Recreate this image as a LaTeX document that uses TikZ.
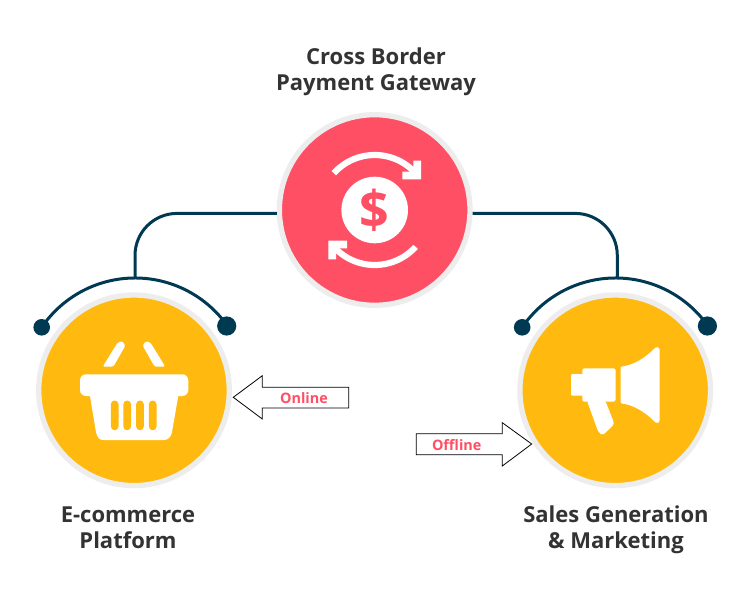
\documentclass[tikz,border=0pt]{standalone}
\usepackage{fontspec}
\setmainfont{Open Sans}
\definecolor{redc}{HTML}{FF4F64}
\definecolor{yelc}{HTML}{FFB90F}
\definecolor{navyc}{HTML}{003A52}
\definecolor{ringc}{HTML}{EDEDED}
\definecolor{txtc}{HTML}{333333}
\tikzset{
  x=1pt,y=-1pt,
  disc/.style={circle,draw=ringc,line width=5.3pt,minimum size=190.6pt,inner sep=0pt},
  conn/.style={draw=navyc,line width=3pt},
  dotsmall/.style={circle,fill=navyc,minimum size=16.6pt,inner sep=0pt},
  dotbig/.style={circle,fill=navyc,minimum size=19.2pt,inner sep=0pt},
  title/.style={font=\fontsize{22}{26}\selectfont\bfseries,text=txtc,align=center,inner sep=0pt},
  tag/.style={font=\fontsize{14.4}{16}\selectfont\bfseries,text=redc,inner sep=0pt},
  blockarrow/.style={draw=black,fill=white,line width=0.8pt,line join=miter},
  icon/.style={fill=white,draw=none},
}
\begin{document}
\begin{tikzpicture}
\path[use as bounding box,fill=white] (0,0) rectangle (750,600);

% discs
\node[disc,fill=redc] (pay) at (374.7,210) {};
\node[disc,fill=yelc] (shop) at (134,390.3) {};
\node[disc,fill=yelc] (sales) at (615.2,390.3) {};

% joints and dots
\node[dotsmall] (la) at (41.7,327.3) {};
\node[dotbig]   (lb) at (226.7,326) {};
\node[dotsmall] (ra) at (522.2,327.3) {};
\node[dotbig]   (rb) at (707.4,326) {};
\coordinate (lt) at (135,277.5);
\coordinate (rt) at (617.3,277.5);

% connectors
\draw[conn] (la.center) arc[start angle=214.3,end angle=325.4,radius=113];
\draw[conn] (ra.center) arc[start angle=214.3,end angle=325.4,radius=113];
\draw[conn,rounded corners=42pt] (pay.182.3) -| (lt);
\draw[conn,rounded corners=42pt] (pay.-2.3) -| (rt);

% payment icon
\fill[white] (pay.center) circle[radius=33.3];
\node[font=\fontsize{52}{52}\selectfont\bfseries,text=redc,inner sep=0pt] (dollar) at (374.7,210) {\$};
\foreach \r in {0,180}{
\begin{scope}[shift={(374.7,210)},rotate=\r]
  \draw[white,line width=6.2pt] (222:55) arc[start angle=222,end angle=316,radius=55];
  \fill[white] (46.3,-49.3) -- (46.3,-30.7) -- (27.6,-30.7) -- (27.6,-38.3) -- (38.6,-38.3) -- (38.6,-49.3) -- cycle;
\end{scope}}

% basket icon
\fill[icon,rounded corners=1.5pt] (102.7,366.7) -- (113.3,366.7) -- (125.4,345.6) -- (122,341) -- (117.6,342.6) -- cycle;
\fill[icon,rounded corners=1.5pt] (165.3,366.7) -- (154.7,366.7) -- (142.6,345.6) -- (146,341) -- (150.4,342.6) -- cycle;
\fill[icon,rounded corners=6pt] (80,374.3) rectangle (188.3,396);
\fill[icon] (89,390) -- (96,432) .. controls (97,437) and (99,440) .. (103,440) -- (164,440) .. controls (168,440) and (171,437) .. (172,432) -- (179.3,390) -- cycle;
\foreach \cx in {114.7,127.2,140,152.7}{
  \fill[yelc,rounded corners=3.7pt] (\cx-3.8,400.5) rectangle (\cx+3.8,430.2);
}

% megaphone icon
\fill[icon,rounded corners=1pt] (571,374) rectangle (584,395.7);
\fill[icon,rounded corners=1.5pt] (582.3,368.3) rectangle (615.5,401.7);
\fill[icon,rounded corners=3pt] (586.7,400) -- (598.3,432) -- (602.5,435.5) -- (614.5,424) -- (605,400) -- cycle;
\fill[icon,rounded corners=0.8pt] (620.7,366.7) .. controls (634,365) and (645,358) .. (655,348) .. controls (657,346.5) and (659.5,347.5) .. (659.5,350) -- (659.5,420) .. controls (659.5,423) and (657,423.5) .. (655,422) .. controls (645,412) and (634,405) .. (620.7,403.3) -- cycle;

% block arrows
\draw[blockarrow] (233.3,397.3) -- (262.3,375.7) -- (262.3,387.3) -- (348.7,387.3) -- (348.7,408) -- (262.3,408) -- (262.3,419) -- cycle;
\node[tag] (online) at (304,398.2) {Online};
\draw[blockarrow] (531.7,444) -- (502.3,422.7) -- (502.3,433.7) -- (416.3,433.7) -- (416.3,454.7) -- (502.3,454.7) -- (502.3,466) -- cycle;
\node[tag] (offline) at (456.7,445) {Offline};

% titles
\node[title] (t1) at (376,71.5) {Cross Border\\Payment Gateway};
\node[title] (t2) at (128,527.5) {E-commerce\\Platform};
\node[title] (t3) at (616,529.5) {Sales Generation\\\& Marketing};
\end{tikzpicture}
\end{document}
